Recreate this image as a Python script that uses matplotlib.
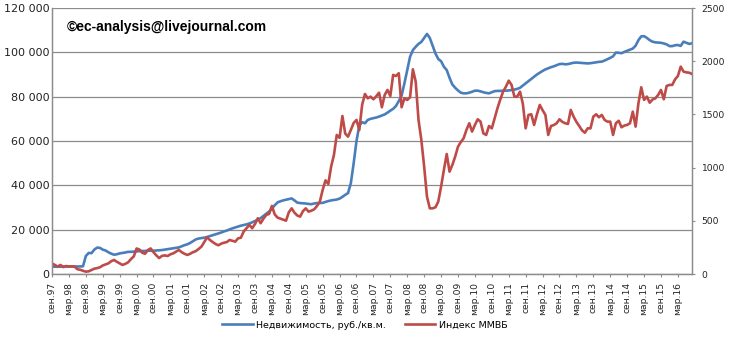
import matplotlib
matplotlib.use("Agg")
import matplotlib.pyplot as plt
from matplotlib.ticker import FuncFormatter

# Monthly data, Sep 1997 .. Aug 2016
realty = [
    3300, 3300, 3300, 3300, 3400, 3400, 3400, 3400, 3400, 3400, 3400, 3500,
    8100, 9500, 9400, 11000, 11900, 11800, 11000, 10600, 9800, 9200, 8700, 8900,
    9300, 9500, 9700, 10000, 10000, 10100, 10200, 10300, 10400, 10400, 10500, 10500,
    10500, 10600, 10700, 10800, 11000, 11200, 11400, 11600, 11800, 12000, 12500, 13000,
    13400, 14000, 14800, 15600, 16000, 16200, 16400, 16700, 17100, 17500, 17900, 18300,
    18700, 19200, 19600, 20100, 20600, 21000, 21400, 21800, 22100, 22400, 22800, 23300,
    23900, 24500, 25200, 26200, 27200, 28200, 29500, 31000, 32300, 32800, 33200, 33500,
    33800, 34100, 33200, 32200, 32000, 31900, 31800, 31600, 31500, 31800, 32000, 32000,
    32100, 32500, 32900, 33200, 33400, 33600, 34000, 34800, 35700, 36500, 41000, 50000,
    60000, 67000, 68500, 68000, 69500, 70000, 70300, 70600, 71000, 71500, 72000, 72800,
    73700, 74500, 75800, 78000, 80500, 86000, 92000, 98000, 101000, 102500, 103800, 104700,
    106500, 108300, 106500, 103000, 99500, 97000, 96000, 93500, 92000, 88500, 85500, 84000,
    82800, 81800, 81500, 81500, 81800, 82200, 82700, 82700, 82400, 82000, 81700, 81500,
    82000, 82500, 82600, 82600, 82700, 82700, 82800, 83000, 83200, 83500, 84000, 85000,
    86000, 87000, 88000, 89000, 90000, 90800, 91600, 92300, 92800, 93300, 93700, 94200,
    94700, 94800, 94600, 94700, 95000, 95300, 95400, 95300, 95200, 95100, 95000, 95100,
    95300, 95500, 95700, 95800, 96300, 96900, 97500, 98200, 99900, 99800, 99600, 100200,
    100700, 101200, 101700, 103000, 105500, 107200, 107300, 106500, 105500, 104800, 104500, 104400,
    104300, 104000, 103600, 102800, 102800, 103200, 103300, 102900, 104800, 104300, 103800, 104100,
]

micex = [
    100, 85, 70, 85, 65, 75, 70, 72, 70, 45, 40, 30,
    22, 25, 38, 50, 55, 63, 80, 90, 100, 120, 132, 115,
    100, 85, 95, 110, 140, 165, 240, 230, 200, 190, 225, 240,
    205, 175, 150, 170, 175, 169, 185, 194, 210, 226, 205, 190,
    179, 190, 205, 215, 235, 257, 300, 345, 320, 300, 282, 270,
    285, 294, 300, 320, 312, 304, 335, 341, 400, 430, 461, 430,
    470, 524, 477, 520, 555, 565, 640, 560, 530, 520, 510, 501,
    580, 617, 576, 550, 539, 590, 617, 586, 595, 608, 640, 680,
    790, 880, 846, 1009, 1119, 1307, 1280, 1485, 1320, 1291, 1354, 1420,
    1448, 1354, 1589, 1692, 1651, 1667, 1642, 1670, 1704, 1567, 1683, 1730,
    1673, 1871, 1861, 1887, 1567, 1651, 1636, 1661, 1924, 1808, 1448, 1260,
    1009, 727, 617, 617, 627, 680, 821, 978, 1128, 962, 1025, 1103,
    1197, 1240, 1276, 1354, 1417, 1338, 1401, 1454, 1432, 1322, 1307, 1391,
    1369, 1463, 1558, 1640, 1714, 1761, 1817, 1777, 1667, 1667, 1714, 1600,
    1369, 1495, 1501, 1401, 1500, 1589, 1540, 1495, 1307, 1391, 1400, 1417,
    1454, 1430, 1417, 1410, 1542, 1479, 1430, 1391, 1350, 1328, 1369, 1369,
    1479, 1501, 1473, 1495, 1448, 1432, 1432, 1307, 1417, 1440, 1379, 1395,
    1401, 1417, 1526, 1385, 1605, 1755, 1636, 1667, 1610, 1640, 1651, 1683,
    1730, 1642, 1767, 1777, 1777, 1830, 1861, 1949, 1902, 1895, 1892, 1880,
]

tick_labels = []
for yr in range(1997, 2017):
    yy = f"{yr % 100:02d}"
    tick_labels.append("мар." + yy)
    tick_labels.append("сен." + yy)
tick_labels = tick_labels[1:-1]  # сен.97 .. мар.16

legend_labels = ["Недвижимость, руб./кв.м.", "Индекс ММВБ"]
watermark = "©ec-analysis@livejournal.com"

blue = "#4A7EBB"
red = "#BE4B48"
grid_c = "#8C8C8C"
txt_c = "#222222"

fig = plt.figure(figsize=(7.30, 3.47), dpi=100)
ax = fig.add_axes([52 / 730, 1 - 274 / 347, 640 / 730, 266 / 347])
ax2 = ax.twinx()

x = list(range(len(realty)))
l1, = ax.plot(x, realty, color=blue, lw=1.9, solid_joinstyle="round")
l2, = ax2.plot(x, micex, color=red, lw=1.9, solid_joinstyle="round")

ax.set_xlim(0, len(realty) - 1)
ax.set_ylim(0, 120000)
ax2.set_ylim(0, 2500)

ax.set_yticks(range(0, 120001, 20000))
ax.yaxis.set_major_formatter(FuncFormatter(lambda v, p: f"{int(v):,}".replace(",", " ")))
ax2.set_yticks(range(0, 2501, 500))

ticks = list(range(0, 6 * len(tick_labels), 6))
ax.set_xticks(ticks)
ax.set_xticklabels(tick_labels, rotation=90, fontsize=6.6, color=txt_c)

ax.grid(axis="y", color=grid_c, lw=0.9)
ax.set_axisbelow(True)

for a in (ax, ax2):
    a.spines["top"].set_visible(False)
    for s in ("left", "right", "bottom"):
        a.spines[s].set_color(grid_c)
        a.spines[s].set_linewidth(0.9)
ax.tick_params(axis="y", labelsize=8, colors=grid_c, labelcolor=txt_c, length=0, pad=2)
ax2.tick_params(axis="y", labelsize=6.6, colors=grid_c, labelcolor=txt_c, length=2.5,
                direction="out", pad=4.5)
ax.tick_params(axis="x", colors=grid_c, labelcolor=txt_c, length=2.5, direction="out", pad=3)

fig.text(67 / 730, 1 - 27 / 347, watermark, fontsize=10, fontweight="bold",
         family="Liberation Sans", va="center", ha="left")

fig.legend([l1, l2], legend_labels, loc="center", bbox_to_anchor=(0.5, 1 - 325 / 347),
           ncol=2, frameon=False, fontsize=6.8, handlelength=3.2, columnspacing=2.0,
           handletextpad=0.4)

fig.savefig("out.png", dpi=100)
